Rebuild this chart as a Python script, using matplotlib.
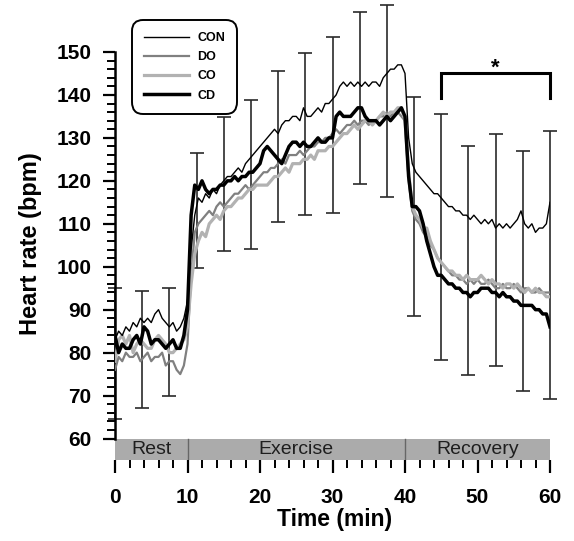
import numpy as np
import matplotlib
matplotlib.use("Agg")
import matplotlib.pyplot as plt
from matplotlib.ticker import FixedLocator

plt.rcParams['font.family'] = ['Liberation Sans', 'DejaVu Sans']

# ---------------- data ----------------
TIME_STEP = 0.5  # minutes between samples, 0 .. 60

con = [83, 85, 84, 86, 85, 87, 86, 88, 87, 88,
       87, 89, 90, 88, 87, 86, 87, 85, 86, 88,
       92, 104, 112, 116, 115, 117, 116, 118, 117, 119,
       120, 121, 121, 122, 123, 122, 124, 125, 126, 127,
       128, 129, 130, 131, 132, 131, 133, 134, 134, 135,
       135, 134, 137, 135, 135, 136, 137, 136, 138, 138,
       139, 140, 142, 143, 142, 143, 142, 143, 142, 143,
       142, 143, 143, 142, 144, 145, 146, 146, 147, 147,
       145, 130, 124, 122, 121, 120, 119, 118, 117, 117,
       116, 115, 114, 114, 113, 113, 112, 112, 111, 112,
       111, 110, 111, 110, 111, 109, 110, 109, 110, 109,
       110, 111, 113, 110, 109, 110, 108, 109, 109, 110,
       115]

do = [76, 79, 78, 80, 79, 79, 80, 78, 79, 80,
      78, 79, 79, 80, 77, 78, 78, 76, 75, 77,
      82, 98, 108, 110, 111, 112, 113, 112, 114, 115,
      114, 115, 116, 117, 117, 118, 119, 118, 119, 120,
      121, 122, 122, 123, 123, 124, 125, 124, 126, 126,
      126, 127, 126, 127, 128, 128, 129, 129, 130, 130,
      131, 132, 131, 132, 133, 133, 134, 133, 134, 134,
      133, 134, 134, 135, 135, 136, 135, 136, 136, 135,
      134, 120, 113, 111, 110, 108, 107, 105, 104, 102,
      101, 100, 99, 98, 98, 97, 97, 96, 97, 96,
      97, 96, 96, 97, 96, 95, 95, 96, 95, 95,
      96, 95, 94, 95, 95, 94, 94, 95, 94, 94,
      94]

co = [78, 83, 84, 82, 84, 80, 82, 83, 82, 81,
      81, 83, 84, 83, 82, 80, 80, 81, 82, 83,
      86, 96, 103, 106, 108, 107, 110, 111, 112, 111,
      113, 114, 114, 115, 116, 116, 117, 118, 118, 119,
      119, 119, 119, 120, 121, 121, 122, 123, 122, 124,
      124, 124, 125, 125, 126, 125, 127, 127, 127, 128,
      128, 129, 130, 131, 131, 132, 133, 132, 133, 134,
      134, 133, 134, 135, 136, 135, 136, 136, 137, 137,
      134, 122, 114, 112, 111, 109, 109, 106, 104, 102,
      101, 100, 99, 99, 98, 98, 97, 98, 97, 97,
      97, 98, 97, 96, 97, 96, 96, 95, 96, 96,
      95, 96, 95, 94, 95, 94, 95, 94, 94, 93,
      93]

cd = [84, 80, 82, 81, 81, 83, 84, 82, 86, 85,
      82, 83, 83, 82, 81, 82, 83, 81, 81, 84,
      90, 112, 119, 118, 120, 118, 117, 118, 118, 119,
      119, 120, 120, 121, 120, 121, 121, 122, 122, 123,
      124, 127, 128, 127, 126, 125, 124, 126, 128, 129,
      129, 128, 129, 128, 128, 129, 130, 129, 129, 130,
      130, 135, 136, 135, 135, 135, 136, 137, 137, 135,
      134, 134, 134, 133, 134, 135, 134, 135, 136, 137,
      135, 121, 114, 114, 113, 110, 106, 103, 100, 98,
      98, 97, 96, 96, 95, 95, 94, 94, 93, 94,
      94, 95, 95, 95, 94, 94, 93, 94, 93, 93,
      92, 92, 91, 91, 91, 91, 90, 90, 89, 89,
      86]

err_t = [0, 3.75, 7.5, 11.25, 15, 18.75, 22.5, 26.25, 30, 33.75, 37.5,
         41.25, 45, 48.75, 52.5, 56.25, 60]
err_hi = [95, 94.3, 95.1, 126.5, 134.9, 138.8, 145.6, 149.7, 153.6, 159.2,
          160.9, 139.6, 135.5, 128.2, 130.9, 126.9, 131.7]
err_lo = [64.5, 67.2, 69.9, 99.6, 103.6, 104.1, 110.4, 112.0, 112.6, 119.2,
          116.3, 88.5, 78.2, 74.7, 76.8, 71.0, 69.3]

phases = ["Rest", "Exercise", "Recovery"]
phase_edges = [0, 10, 40, 60]

bracket_x = [45, 60]
bracket_y = [139.3, 145]
star_label = "*"

series_names = ["CON", "DO", "CO", "CD"]

# ---------------- figure ----------------
fig = plt.figure(figsize=(5.74, 5.41), dpi=100)
ax = fig.add_axes([115 / 574, 81 / 541, 435 / 574, 460 / 541])
ax.set_xlim(0, 60)
ax.set_ylim(55, 162.1)

def tgrid(v):
    return np.arange(len(v)) * TIME_STEP

# error bars
mid = [(a + b) / 2 for a, b in zip(err_lo, err_hi)]
yerr = [[m - l for m, l in zip(mid, err_lo)], [h - m for m, h in zip(mid, err_hi)]]
eb = ax.errorbar(err_t, mid, yerr=yerr, fmt='none', ecolor='#2a2a2a',
                 elinewidth=1.2, capsize=5, capthick=1.2, zorder=2)
for art in list(eb.lines[1]) + list(eb.lines[2]):
    art.set_clip_on(False)

# series
h_do, = ax.plot(tgrid(do), do, color='#808080', lw=1.6, zorder=3, label="DO")
h_co, = ax.plot(tgrid(co), co, color='#b2b2b2', lw=2.3, zorder=3.1, label="CO")
h_cd, = ax.plot(tgrid(cd), cd, color='#000000', lw=2.5, zorder=3.2, label="CD")
h_con, = ax.plot(tgrid(con), con, color='#000000', lw=1.0, zorder=3.3, label="CON")

# phase band
for i, name in enumerate(phases):
    x0, x1 = phase_edges[i], phase_edges[i + 1]
    ax.axvspan(x0, x1, ymin=0, ymax=(60 - 55) / (162.1 - 55),
               facecolor='#ababab', edgecolor='none', zorder=1)
    ax.text((x0 + x1) / 2, 57.4, name, ha='center', va='center',
            fontsize=14, color='#1e1e1e', zorder=5)
for xe in phase_edges[1:-1]:
    ax.plot([xe, xe], [55, 60], color='#666666', lw=1.0, zorder=2)

# bracket with star
ax.plot([bracket_x[0], bracket_x[0], bracket_x[1], bracket_x[1]],
        [bracket_y[0], bracket_y[1], bracket_y[1], bracket_y[0]],
        color='black', lw=2.2, solid_joinstyle='miter', clip_on=False, zorder=4)
ax.text(sum(bracket_x) / 2, 143.8, star_label, ha='center', va='bottom',
        fontsize=16, fontweight='bold')

# spines and ticks
for s in ['top', 'right', 'bottom']:
    ax.spines[s].set_visible(False)
ax.spines['left'].set_bounds(60, 150)
ax.spines['left'].set_linewidth(1.8)

ax.yaxis.set_major_locator(FixedLocator(list(range(60, 151, 10))))
ax.yaxis.set_minor_locator(FixedLocator([v for v in range(60, 151, 2) if v % 10]))
ax.xaxis.set_major_locator(FixedLocator(list(range(0, 61, 10))))
ax.xaxis.set_minor_locator(FixedLocator([v for v in range(0, 61, 2) if v % 10]))

ax.tick_params(axis='both', which='major', direction='out', length=9, width=1.6,
               labelsize=15)
ax.tick_params(axis='both', which='minor', direction='out', length=5.5, width=1.4)
ax.tick_params(axis='y', which='major', pad=8)
ax.tick_params(axis='x', which='major', pad=11)
for lab in ax.get_xticklabels() + ax.get_yticklabels():
    lab.set_fontweight('bold')

ax.set_xlabel("Time (min)", fontsize=16.5, fontweight='bold')
ax.xaxis.set_label_coords(0.505, -0.105)
ax.set_ylabel("Heart rate (bpm)", fontsize=17, fontweight='bold')
ax.yaxis.set_label_coords(-0.168, 0.47)

# legend
leg = ax.legend(handles=[h_con, h_do, h_co, h_cd], labels=series_names,
                loc='upper left', bbox_to_anchor=(132 / 574, 1 - 20 / 541),
                bbox_transform=fig.transFigure, borderaxespad=0,
                prop={'weight': 'bold', 'size': 9}, handlelength=3.6,
                handletextpad=0.7, labelspacing=0.58, borderpad=0.95,
                frameon=True, fancybox=True)
fr = leg.get_frame()
fr.set_edgecolor('black')
fr.set_linewidth(1.4)
fr.set_alpha(1)
fr.set_boxstyle('round,pad=0,rounding_size=0.9')

fig.savefig("out.png", dpi=100)
